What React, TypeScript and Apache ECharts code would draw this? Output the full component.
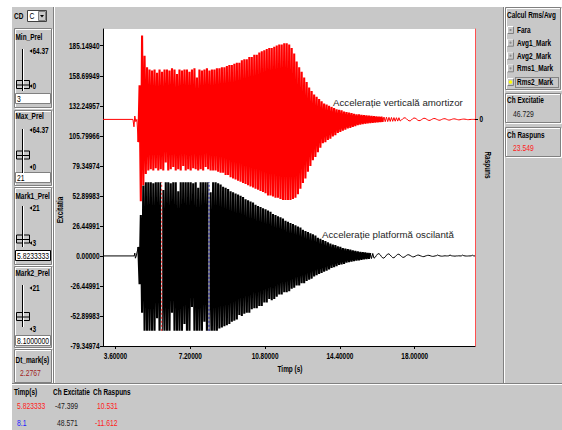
import { useEffect, useRef } from "react";
import * as echarts from "echarts";

// ---- axes ---------------------------------------------------------------
const timeTicks = [3.6, 7.2, 10.8, 14.4, 18.0];
const excitatieTicks = [
  -79.34974, -52.89983, -26.44991, 0, 26.44991, 52.89983, 79.34974, 105.79966, 132.24957, 158.69949,
  185.1494,
];
const raspunsTicks = [0];
const timeRange = [3.0, 20.9];
const excitatieRange = [-79.34974, 199.9];
const raspunsRange = [-199.61, 79.64];

// ---- recorded signals (peak values of each half cycle) -------------------
const burstStart = 4.7; // s, first stored peak
const burstStep = 0.06; // s, spacing of stored peaks

const excitatieLeadT = [3.0, 4.5, 4.53, 4.56, 4.6];
const excitatieLeadV = [0, 0, 2.5, -2, 0];
const excitatiePeaks = [
  8, -25, 36, -50, 62, -66, 65, -66, 65, -66,
  65, -66, 64, -66, 65, -55, 65, -66, 65, -66,
  58, -66, 65, -66, 65, -66, 64, -50, 65, -66,
  65, -66, 57, -66, 65, -66, 65, -60, 65, -66,
  65, -66, 65, -45, 64, -66, 65, -66, 60, -66,
  65, -66, 65, -58, 65, -66, 65, -66, 56, -66,
  65, -66, 65, -66, 64, -64, 63, -63, 61, -62,
  60, -61, 59, -60, 57, -58, 56, -57, 55, -56,
  54, -52, 53, -53, 52, -51, 50, -50, 49, -50,
  48, -47, 47, -46, 45, -46, 44, -44, 43, -44,
  42, -41, 41, -41, 40, -38, 39, -39, 37, -38,
  36, -36, 35, -34, 34, -34, 33, -32, 31, -32,
  30, -31, 29, -29, 28, -28, 27, -26, 26, -26,
  25, -24, 23, -24, 22, -22, 21, -21, 20, -20,
  19, -18, 18, -17, 16, -16, 15, -15, 14, -14,
  13, -13, 12, -12, 11, -10.5, 10, -10, 9.5, -9,
  8.5, -8, 8, -7.5, 7, -7, 6.5, -6, 6, -5.5,
  5.5, -5, 5, -4.5, 4.5, -4.2, 4, -3.8, 3.6, -3.4,
  3.2, -3, 3, -2.8, 2.7, -2.6, 2.5, -2.3, 2.2, -2,
  -1.2, 0.5, 1.8, 2, 1, -0.6, -1.8, -1.9, -0.8, 0.6,
  1.7, 1.8, 0.8, -0.5, -1.5, -1.6, -0.7, 0.5, 1.4, 1.5,
  0.6, -0.4, -1.2, -1.2, -0.5, 0.4, 1, 1, 0.4, -0.3,
  -0.8, -0.8, -0.3, 0.3, 0.7, 0.7, 0.2, -0.2, -0.6, -0.6,
  -0.2, 0.2, 0.5, 0.5, 0.2, -0.2, -0.4, -0.3, 0, 0.2,
  0.8, 0.3, 0, -0.2, -0.2, 0, 0.1, 0, 0, 0.1,
  0.8, 0.2, 0, -0.1, -0.2, 0, 0, 0.1, 0, 0,
  0.7, 0.2, 0, -0.1, -0.1, 0, 0, 0.1, 0.6, 0, 0,
];

const raspunsLeadT = [3.0, 4.44, 4.49, 4.53, 4.58, 4.63];
const raspunsLeadV = [0, 0, -6.5, 3, -2, 0];
const raspunsPeaks = [
  -20, 30, -72, 74, -58, 56, -48, 46, -45, 44,
  -44, 43, -45, 44, -43, 41, -45, 44, -44, 42,
  -45, 44, -38, 44, -45, 43, -44, 45, -42, 44,
  -45, 40, -44, 44, -45, 43, -41, 44, -45, 44,
  -44, 42, -45, 44, -43, 45, -44, 37, -45, 44,
  -44, 43, -45, 44, -42, 45, -44, 43, -45, 44,
  -45, 44, -45, 45, -46, 45, -47, 46, -47, 46,
  -49, 47, -49, 48, -51, 48, -52, 49, -53, 50,
  -54, 50, -55, 52, -56, 53, -57, 53, -58, 55,
  -59, 55, -60, 57, -61, 57, -62, 59, -63, 60,
  -64, 61, -65, 62, -67, 63, -67, 63, -68, 64,
  -69, 65, -69, 66, -70, 66, -71, 67, -71, 67,
  -71, 66, -71, 63, -70, 58, -69, 51, -66, 46,
  -61, 42, -56, 37, -52, 33, -46, 28, -41, 25,
  -36, 22, -33, 20, -29, 18, -25, 16, -21, 14,
  -20, 13, -18, 12, -17, 11, -15, 10, -14, 9,
  -12, 8.5, -11, 8, -10, 7, -9, 6.5, -8, 6,
  -7.5, 5.5, -6.5, 5, -6, 4.5, -5, 4.4, -4.5, 4,
  -4.2, 3.8, -3.8, 3.5, -3.5, 3.2, -3.2, 3, -3, 2.8,
  -2.8, 2.6, -2.6, 2.4, -2.4, 2.3, -2.2, 2.1, -2, 2,
  -1.9, 1.8, -1.8, 1.7, -1.7, 1.6, -1.6, 1.5, -1.5, 1.5,
  -1.4, -0.6, 0.5, 1.3, 1.4, 0.6, -0.5, -1.2, -1.3, -0.5,
  0.6, 1.2, 1.1, 0.4, -0.6, -1.1, -1, -0.3, 0.5, 1,
  0.9, 0.3, -0.4, -0.9, -0.8, -0.2, 0.4, 0.8, 0.7, 0.2,
  -0.3, -0.7, -0.7, -0.2, 0.3, 0.6, 0.6, 0.2, -0.3, -0.6,
  -0.5, -0.1, 0.3, 0.5, 0.4, 0.1, -0.2, -0.4, -0.3, 0,
  0.2, 0.3, 0.2, 0, -0.2, -0.2, -0.1, 0, 0, 0, 0,
];

// ---- cursors and readouts ---------------------------------------------
const markTimes = [5.823333, 8.1];
const markSpan = [-66, 65];
const markTimeLabels = ["5.823333", "8.1"];
const markExcitatie = ["-47.399", "48.571"];
const markRaspuns = ["10.531", "-11.612"];
const dtMark = "2.2767";
const rmsExcitatie = "46.729";
const rmsRaspuns = "23.549";
const calcOptions = ["Fara", "Avg1_Mark", "Avg2_Mark", "Rms1_Mark", "Rms2_Mark"];
const sliderTitles = ["Min_Prel", "Max_Prel", "Mark1_Prel", "Mark2_Prel"];
const sliderMax = ["64.37", "64.37", "21", "21"];
const sliderMin = ["0", "0", "3", "3"];
const sliderValues = ["3", "21", "5.8233333", "8.1000000"];

// ---- drawing helpers ----------------------------------------------------
const SANS = "'Liberation Sans', Arial, sans-serif";
const GRAY = "#c8c8c8";

// condensed dialog-style text: a regular face squeezed horizontally
function txt(x: number, y: number, text: string, o: any = {}) {
  const align = o.align || "left";
  const squeeze = o.wide ? 1 : o.bold ? 0.76 : 0.8;
  return {
    type: "text",
    x,
    y,
    z: 100,
    silent: true,
    rotation: o.rot || 0,
    scaleX: squeeze,
    style: {
      text,
      fill: o.color || "#000",
      fontSize: o.size || 8.5,
      fontWeight: o.bold ? "bold" : "normal",
      fontFamily: SANS,
      align,
      textAlign: align,
      verticalAlign: "middle",
      textVerticalAlign: "middle",
    },
  };
}

function ln(x1: number, y1: number, x2: number, y2: number, stroke: string, lineDash?: number[]) {
  return { type: "line", z: 100, silent: true, shape: { x1, y1, x2, y2 }, style: { stroke, lineWidth: 1, lineDash } };
}

function rc(x: number, y: number, w: number, h: number, fill: string, stroke?: string) {
  return {
    type: "rect",
    z: 99,
    silent: true,
    shape: { x, y, width: w, height: h },
    style: { fill, stroke: stroke || "none", lineWidth: 1 },
  };
}

function etched(x: number, y: number, w: number, h: number) {
  return [
    rc(x + 1.5, y + 1.5, w - 1, h - 1, "none", "#ffffff"),
    rc(x + 0.5, y + 0.5, w - 1, h - 1, "none", "#808080"),
  ];
}

function leftTick(x: number, y: number) {
  return {
    type: "polygon",
    z: 100,
    silent: true,
    shape: { points: [[x, y], [x + 2.5, y - 1.8], [x + 2.5, y + 1.8]] },
    style: { fill: "#000" },
  };
}

const panelBoxes = [
  { top: 28, h: 80, titleY: 37, maxY: 51, trackTop: 49, trackBot: 91, thumbY: 84.5, minY: 86, inputY: 93 },
  { top: 110, h: 76, titleY: 116.5, maxY: 130, trackTop: 129, trackBot: 173, thumbY: 155, minY: 167, inputY: 172 },
  { top: 187, h: 78, titleY: 196, maxY: 208, trackTop: 206, trackBot: 247, thumbY: 239, minY: 243, inputY: 250 },
  { top: 266, h: 82, titleY: 273, maxY: 288, trackTop: 285, trackBot: 327, thumbY: 316.5, minY: 329, inputY: 335 },
];
const radioRows = [30, 42.7, 55.7, 68.3, 82];

function buildGraphics() {
  const g: any[] = [];
  // separators of the window panes
  g.push(ln(53.5, 7, 53.5, 383, "#808080"), ln(54.5, 7, 54.5, 383, "#ffffff"));
  g.push(ln(503.5, 7, 503.5, 383, "#808080"), ln(504.5, 7, 504.5, 383, "#ffffff"));
  g.push(ln(12, 383.5, 562, 383.5, "#808080"), ln(12, 384.5, 562, 384.5, "#ffffff"));

  // channel selector
  g.push(txt(14, 16, "CD", { bold: true }));
  g.push(rc(27.5, 10.5, 19, 11, "#ffffff", "#404040"));
  g.push(txt(29.5, 16, "C"));
  g.push(rc(38.5, 11.5, 7, 9, GRAY, "#808080"));
  g.push({
    type: "polygon",
    z: 101,
    silent: true,
    shape: { points: [[40, 15], [44, 15], [42, 17.5]] },
    style: { fill: "#000" },
  });

  // slider panels
  panelBoxes.forEach((p, i) => {
    g.push(...etched(14, p.top, 38, p.h));
    g.push(txt(15.5, p.titleY, sliderTitles[i], { bold: true }));
    g.push(ln(22.5, p.trackTop, 22.5, p.trackBot, "#000"), ln(23.5, p.trackTop, 23.5, p.trackBot, "#ffffff"));
    g.push(leftTick(29.5, p.maxY), txt(32.5, p.maxY, sliderMax[i], { bold: true }));
    g.push(leftTick(29.5, p.minY), txt(32.5, p.minY, sliderMin[i], { bold: true }));
    g.push(rc(16.5, p.thumbY - 4, 13, 8, GRAY, "#000"));
    g.push(ln(17, p.thumbY + 0.5, 29, p.thumbY + 0.5, "#000"));
    g.push(rc(15.5, p.inputY + 0.5, 35, 10, "#ffffff", i === 2 ? "#000" : "#808080"));
    g.push(txt(17, p.inputY + 6, sliderValues[i]));
  });

  // cursor spacing
  g.push(...etched(14, 349, 38, 34));
  g.push(txt(15.5, 360, "Dt_mark(s)", { bold: true }));
  g.push(txt(20, 373, dtMark, { color: "#a01c1c" }));

  // readout table
  g.push(txt(14, 392, "Timp(s)", { bold: true }));
  g.push(txt(53, 392, "Ch Excitatie", { bold: true }));
  g.push(txt(93, 392, "Ch Raspuns", { bold: true }));
  const rowY = [406, 423];
  const timeColors = ["#ff2020", "#2020ff"];
  markTimeLabels.forEach((s, i) => {
    g.push(txt(17, rowY[i], s, { color: timeColors[i] }));
    g.push(txt(i === 0 ? 55 : 57, rowY[i], markExcitatie[i], { color: "#202020" }));
    g.push(txt(i === 0 ? 97 : 95, rowY[i], markRaspuns[i], { color: "#ff2020" }));
  });

  // Rms / Avg selector
  g.push(...etched(505, 7, 56, 83));
  g.push(txt(507, 15, "Calcul Rms/Avg", { bold: true }));
  calcOptions.forEach((s, i) => {
    const cy = radioRows[i];
    g.push(rc(507.5, cy - 3.5, 6, 7, GRAY, "#808080"));
    g.push(ln(507.5, cy - 3.5, 513.5, cy - 3.5, "#ffffff"), ln(507.5, cy - 3.5, 507.5, cy + 3.5, "#ffffff"));
    const selected = i === calcOptions.length - 1;
    g.push({
      type: "circle",
      z: 101,
      silent: true,
      shape: { cx: 510.5, cy, r: selected ? 1.8 : 1.1 },
      style: { fill: selected ? "#ffff00" : "#8a8a8a" },
    });
    g.push(txt(517, cy, s, { bold: true }));
  });
  g.push({
    type: "rect",
    z: 100,
    silent: true,
    shape: { x: 515.5, y: 77.5, width: 43, height: 10 },
    style: { fill: "none", stroke: "#404040", lineWidth: 1, lineDash: [1, 1] },
  });

  // RMS results
  g.push(...etched(505, 93, 56, 30));
  g.push(txt(507, 100, "Ch Excitatie", { bold: true }));
  g.push(txt(513, 114, rmsExcitatie, { color: "#202020" }));
  g.push(...etched(505, 127, 56, 30));
  g.push(txt(507, 135, "Ch Raspuns", { bold: true }));
  g.push(txt(513, 148, rmsRaspuns, { color: "#ff2020" }));

  // axis titles
  g.push(txt(60, 210, "Excitatia", { bold: true, align: "center", rot: Math.PI / 2 }));
  g.push(txt(488, 165, "Raspuns", { bold: true, align: "center", rot: -Math.PI / 2 }));
  g.push(txt(290, 369, "Timp (s)", { bold: true, align: "center" }));

  // curve captions
  g.push(txt(333, 102, "Accelerație verticală amortizor", { wide: true, size: 9.7, color: "#1e1e1e" }));
  g.push(txt(322, 234, "Accelerație platformă oscilantă", { wide: true, size: 9.7, color: "#1e1e1e" }));
  return g;
}

function toPairs(leadT: number[], leadV: number[], peaks: number[]) {
  return [
    ...leadT.map((t, i) => [t, leadV[i]]),
    ...peaks.map((v, i) => [Number((burstStart + i * burstStep).toFixed(3)), v]),
  ];
}

// the dense burst is stroked heavier than the quiet stretches around it
function traceSeries(
  name: string,
  yAxisIndex: number,
  color: string,
  pairs: number[][],
  burstFrom: number,
  tailFrom: number,
  z: number
) {
  const base = { type: "line", yAxisIndex, symbol: "none", silent: true, z };
  return [
    { ...base, name: `${name} lead`, data: pairs.slice(0, burstFrom + 1), lineStyle: { color, width: 1 } },
    { ...base, name, data: pairs.slice(burstFrom, tailFrom + 1), lineStyle: { color, width: 2.1 } },
    { ...base, name: `${name} tail`, data: pairs.slice(tailFrom), lineStyle: { color, width: 1 } },
  ];
}

export default function App() {
  const ref = useRef<HTMLDivElement>(null);

  useEffect(() => {
    if (!ref.current) return;
    const chart = echarts.init(ref.current, undefined, { renderer: "svg" });
    const markColors = ["#ff2a2a", "#1a1aa0"];
    const markSeries: any[] = [];
    markTimes.forEach((t, i) => {
      const data = [
        [t, markSpan[0]],
        [t, markSpan[1]],
      ];
      // cursor: white underlay so the dashes read against the dark trace
      markSeries.push({
        type: "line",
        name: `Mark${i + 1} base`,
        yAxisIndex: 0,
        data,
        symbol: "none",
        silent: true,
        z: 4,
        lineStyle: { color: "#ffffff", width: 1 },
      });
      markSeries.push({
        type: "line",
        name: `Mark${i + 1}`,
        yAxisIndex: 0,
        data,
        symbol: "none",
        silent: true,
        z: 5,
        lineStyle: { color: markColors[i], width: 1, type: [2, 2] },
      });
    });

    const excitatie = toPairs(excitatieLeadT, excitatieLeadV, excitatiePeaks);
    const raspuns = toPairs(raspunsLeadT, raspunsLeadV, raspunsPeaks);
    const exLead = excitatieLeadT.length;
    const rsLead = raspunsLeadT.length;

    chart.setOption({
      animation: false,
      backgroundColor: "transparent",
      grid: { left: 103, top: 29, width: 372, height: 317, show: true, backgroundColor: "#ffffff", borderWidth: 0 },
      xAxis: {
        type: "value",
        min: timeRange[0],
        max: timeRange[1],
        axisLine: { show: true, onZero: false, lineStyle: { color: "#000", width: 1 } },
        axisTick: { show: true, length: 3, customValues: timeTicks, lineStyle: { color: "#000" } },
        axisLabel: { show: false },
        splitLine: { show: false },
      },
      yAxis: [
        {
          type: "value",
          position: "left",
          min: excitatieRange[0],
          max: excitatieRange[1],
          axisLine: { show: true, onZero: false, lineStyle: { color: "#000", width: 1 } },
          axisTick: { show: true, length: 3, customValues: excitatieTicks, lineStyle: { color: "#000" } },
          axisLabel: { show: false },
          splitLine: { show: false },
        },
        {
          type: "value",
          position: "right",
          min: raspunsRange[0],
          max: raspunsRange[1],
          axisLine: { show: true, onZero: false, lineStyle: { color: "#ff5050", width: 1 } },
          axisTick: { show: true, length: 3, customValues: raspunsTicks, lineStyle: { color: "#000" } },
          axisLabel: { show: false },
          splitLine: { show: false },
        },
      ],
      series: [
        ...traceSeries("Excitatie", 0, "#000000", excitatie, exLead, exLead + 186, 2),
        ...traceSeries("Raspuns", 1, "#ff0000", raspuns, rsLead, rsLead + 196, 3),
        ...markSeries,
      ],
    });

    // tick labels in the condensed dialog face, placed through the axis scales
    const tickTexts: any[] = [];
    timeTicks.forEach((v) => {
      const px = chart.convertToPixel({ xAxisIndex: 0 }, v) as number;
      tickTexts.push(txt(px, 356.5, v.toFixed(5), { bold: true, align: "center" }));
    });
    excitatieTicks.forEach((v) => {
      const py = chart.convertToPixel({ yAxisIndex: 0 }, v) as number;
      tickTexts.push(txt(99.5, py, v.toFixed(5), { bold: true, align: "right" }));
    });
    raspunsTicks.forEach((v) => {
      const py = chart.convertToPixel({ yAxisIndex: 1 }, v) as number;
      tickTexts.push(txt(479.5, py, String(v), { bold: true }));
    });

    chart.setOption({ graphic: { elements: [...buildGraphics(), ...tickTexts] } });
    return () => chart.dispose();
  }, []);

  return (
    <div style={{ position: "fixed", left: 0, top: 0, width: 562, height: 430, background: "#ffffff" }}>
      <div style={{ position: "absolute", left: 12, top: 7, width: 550, height: 423, background: GRAY }} />
      <div ref={ref} style={{ position: "absolute", left: 0, top: 0, width: 562, height: 430 }} />
    </div>
  );
}
